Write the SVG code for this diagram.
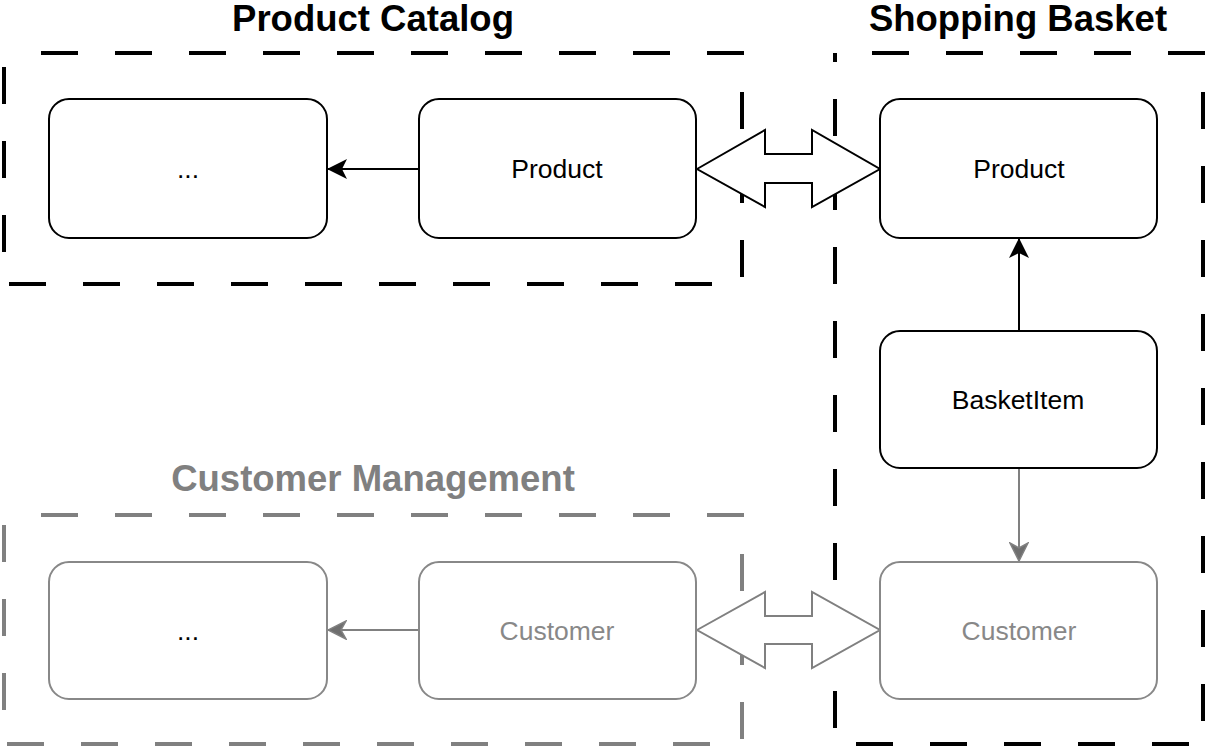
<svg xmlns="http://www.w3.org/2000/svg" width="1209" height="750" viewBox="0 0 1209 750">
<style>
.title{font-family:"Liberation Sans",Arial,sans-serif;font-weight:bold;font-size:36.5px;text-anchor:middle}
.lbl{font-family:"Liberation Sans",Arial,sans-serif;font-size:26.5px;text-anchor:middle}
.box{fill:#fff;stroke:#000;stroke-width:2}
.gbox{fill:#fff;stroke:#888;stroke-width:2}
.zone{fill:none;stroke:#000;stroke-width:4;stroke-dasharray:37 37}
.gzone{fill:none;stroke:#808080;stroke-width:4;stroke-dasharray:37 37}
.edge{fill:none;stroke:#000;stroke-width:2}
.gedge{fill:none;stroke:#808080;stroke-width:2}
</style>
<defs>
<marker id="ah" viewBox="0 0 20 20" refX="19" refY="10" markerWidth="20" markerHeight="20" markerUnits="userSpaceOnUse" orient="auto">
<path d="M0,0 L20,10 L0,20 L5,10 Z" fill="#000"/>
</marker>
<marker id="gah" viewBox="0 0 20 20" refX="19" refY="10" markerWidth="20" markerHeight="20" markerUnits="userSpaceOnUse" orient="auto">
<path d="M1,1 L19,10 L1,19 L6,10 Z" fill="#6e6e6e" stroke="#808080" stroke-width="1.5"/>
</marker>
</defs>
<g id="zone-catalog">
<rect class="zone" x="4" y="53" width="738" height="231" stroke-dashoffset="37"/>
<text class="title" x="373" y="31">Product Catalog</text>
</g>
<g id="zone-customer">
<rect class="gzone" x="4" y="515" width="738" height="229" stroke-dashoffset="37"/>
<text class="title" x="373" y="491" fill="#808080">Customer Management</text>
</g>
<g id="zone-basket">
<rect class="zone" x="835" y="53" width="368" height="691" stroke-dashoffset="37"/>
<text class="title" x="1018" y="31">Shopping Basket</text>
</g>
<g id="connectors">
<line class="edge" x1="419" y1="169" x2="328" y2="169" marker-end="url(#ah)"/>
<line class="edge" x1="1019" y1="331" x2="1019" y2="239" marker-end="url(#ah)"/>
<line class="gedge" x1="1019" y1="468" x2="1019" y2="561" marker-end="url(#gah)"/>
<line class="gedge" x1="419" y1="630" x2="328" y2="630" marker-end="url(#gah)"/>
<polygon points="697,169 765,130 765,154 812,154 812,130 880,169 812,207 812,183 765,183 765,207" fill="#fff" stroke="#000" stroke-width="2"/>
<polygon points="697,630 765,592 765,616 812,616 812,592 880,630 812,668 812,644 765,644 765,668" fill="#fff" stroke="#808080" stroke-width="2"/>
</g>
<g id="node-catalog-other">
<rect class="box" x="49" y="99" width="278" height="139" rx="20"/>
<text class="lbl" x="188" y="178">...</text>
</g>
<g id="node-catalog-product">
<rect class="box" x="419" y="99" width="277" height="139" rx="20"/>
<text class="lbl" x="557" y="178">Product</text>
</g>
<g id="node-basket-product">
<rect class="box" x="880" y="99" width="277" height="139" rx="20"/>
<text class="lbl" x="1019" y="178">Product</text>
</g>
<g id="node-basketitem">
<rect class="box" x="880" y="331" width="277" height="137" rx="20"/>
<text class="lbl" x="1018" y="409">BasketItem</text>
</g>
<g id="node-basket-customer">
<rect class="gbox" x="880" y="562" width="277" height="137" rx="20"/>
<text class="lbl" x="1019" y="640" fill="#888">Customer</text>
</g>
<g id="node-customer-customer">
<rect class="gbox" x="419" y="562" width="277" height="137" rx="20"/>
<text class="lbl" x="557" y="640" fill="#888">Customer</text>
</g>
<g id="node-customer-other">
<rect class="gbox" x="49" y="562" width="278" height="137" rx="20"/>
<text class="lbl" x="188" y="640" fill="#000">...</text>
</g>
</svg>
